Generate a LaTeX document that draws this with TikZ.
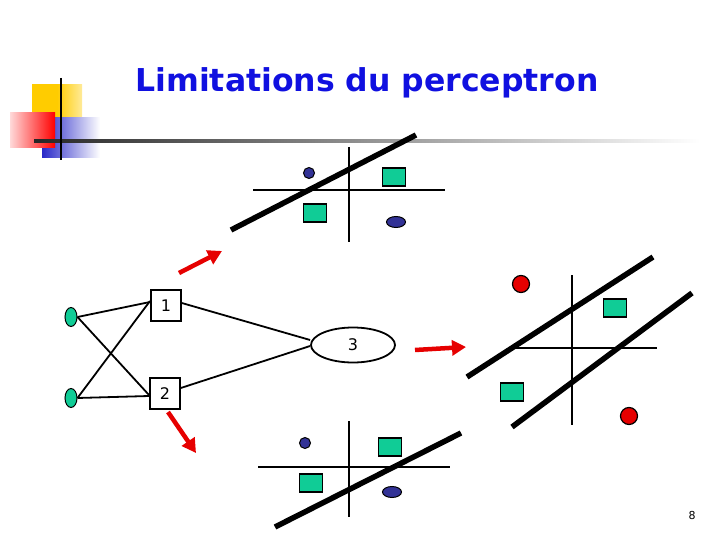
\documentclass[tikz,border=0pt]{standalone}
\usepackage{fontspec}
\setmainfont{DejaVu Sans}
\usetikzlibrary{shapes.geometric,arrows.meta}
\definecolor{titleblue}{RGB}{16,16,224}
\definecolor{ptgreen}{RGB}{16,204,150}
\definecolor{ptblue}{RGB}{50,50,150}
\definecolor{ptred}{RGB}{230,0,0}
\definecolor{logoyellow}{RGB}{255,204,0}
\tikzset{
  axis/.style={line width=2pt,black},
  sep/.style={line width=5.5pt,black},
  thin/.style={line width=1.8pt,black},
  gsq/.style={draw=black,line width=1.5pt,fill=ptgreen,minimum width=23pt,minimum height=18pt,inner sep=0pt},
  bdot/.style={circle,draw=black,line width=1pt,fill=ptblue,minimum size=11pt,inner sep=0pt},
  bell/.style={ellipse,draw=black,line width=1pt,fill=ptblue,minimum width=19pt,minimum height=11pt,inner sep=0pt},
  rdot/.style={circle,draw=black,line width=1.2pt,fill=ptred,minimum size=17pt,inner sep=0pt},
  inp/.style={ellipse,draw=black,line width=1pt,fill=ptgreen,minimum width=12pt,minimum height=19pt,inner sep=0pt},
  neur/.style={draw=black,line width=1.8pt,fill=white,minimum width=30pt,minimum height=31pt,inner sep=0pt,font=\fontsize{16}{16}\selectfont},
  redarrow/.style={ptred,line width=4.5pt,-{Triangle[length=14pt,width=15pt]}},
}
\begin{document}
\begin{tikzpicture}[x=1pt,y=-1pt]
\useasboundingbox (0,0) rectangle (720,540);
% logo
\shade[left color=logoyellow,right color=logoyellow!40,middle color=logoyellow] (32,85) rectangle (82,120);
\shade[left color={rgb,255:red,40;green,40;blue,200},right color=white] (42,118) rectangle (100,158);
\shade[left color=red!15,right color=red] (10,113) rectangle (55,148);
\shade[left color=black!85,right color=white] (34,140) rectangle (700,143);
\draw[line width=2.5pt] (61,78) -- (61,160);
% title
\node[font=\bfseries\fontsize{31.5}{31.5}\selectfont,text=titleblue] (title) at (367,83) {Limitations du perceptron};
% top plot
\draw[axis] (349,147) -- (349,242);
\draw[axis] (253,190) -- (445,190);
\node[bdot] (t1) at (309,173) {};
\node[gsq] (t2) at (394,177) {};
\node[gsq] (t3) at (315,213) {};
\node[bell] (t4) at (396,222) {};
\draw[sep] (231,230) -- (416,135);
% right plot
\draw[axis] (572,275) -- (572,425);
\draw[axis] (513,348) -- (657,348);
\node[rdot] (r1) at (521,284) {};
\node[rdot] (r2) at (629,416) {};
\node[gsq] (r3) at (615,308) {};
\node[gsq] (r4) at (512,392) {};
\draw[sep] (467,377) -- (653,257);
\draw[sep] (512,427) -- (692,293);
% bottom plot
\draw[axis] (349,421) -- (349,517);
\draw[axis] (258,467) -- (450,467);
\node[bdot] (b1) at (305,443) {};
\node[gsq] (b2) at (390,447) {};
\node[gsq] (b3) at (311,483) {};
\node[bell] (b4) at (392,492) {};
\draw[sep] (275,527) -- (461,433);
% network
\node[inp] (i1) at (71,317) {};
\node[inp] (i2) at (71,398) {};
\node[neur,anchor=north west] (n1) at (150,289) {1};
\node[neur,anchor=north west] (n2) at (149,377) {2};
\node[ellipse,draw=black,line width=1.8pt,minimum width=84pt,minimum height=35pt,inner sep=0pt,font=\fontsize{16}{16}\selectfont] (n3) at (353,345) {3};
\draw[thin] (i1.east) -- (n1.west |- 0,302);
\draw[thin] (i1.east) -- (n2.west |- 0,395);
\draw[thin] (i2.east) -- (n1.west |- 0,301);
\draw[thin] (i2.east) -- (n2.west |- 0,396);
\draw[thin] (n1.east |- 0,303) -- (n3.west |- 0,340);
\draw[thin] (n2.east |- 0,388) -- (n3.west |- 0,346);
% red arrows
\coordinate (a1s) at (179,273);
\coordinate (a1e) at (222,251);
\coordinate (a2s) at (168,412);
\coordinate (a2e) at (196,453);
\coordinate (a3s) at (415,350);
\coordinate (a3e) at (466,347);
\draw[redarrow] (a1s) -- (a1e);
\draw[redarrow] (a2s) -- (a2e);
\draw[redarrow] (a3s) -- (a3e);
% page number
\node[font=\fontsize{11}{11}\selectfont] (pg) at (692,515) {8};
\end{tikzpicture}
\end{document}
